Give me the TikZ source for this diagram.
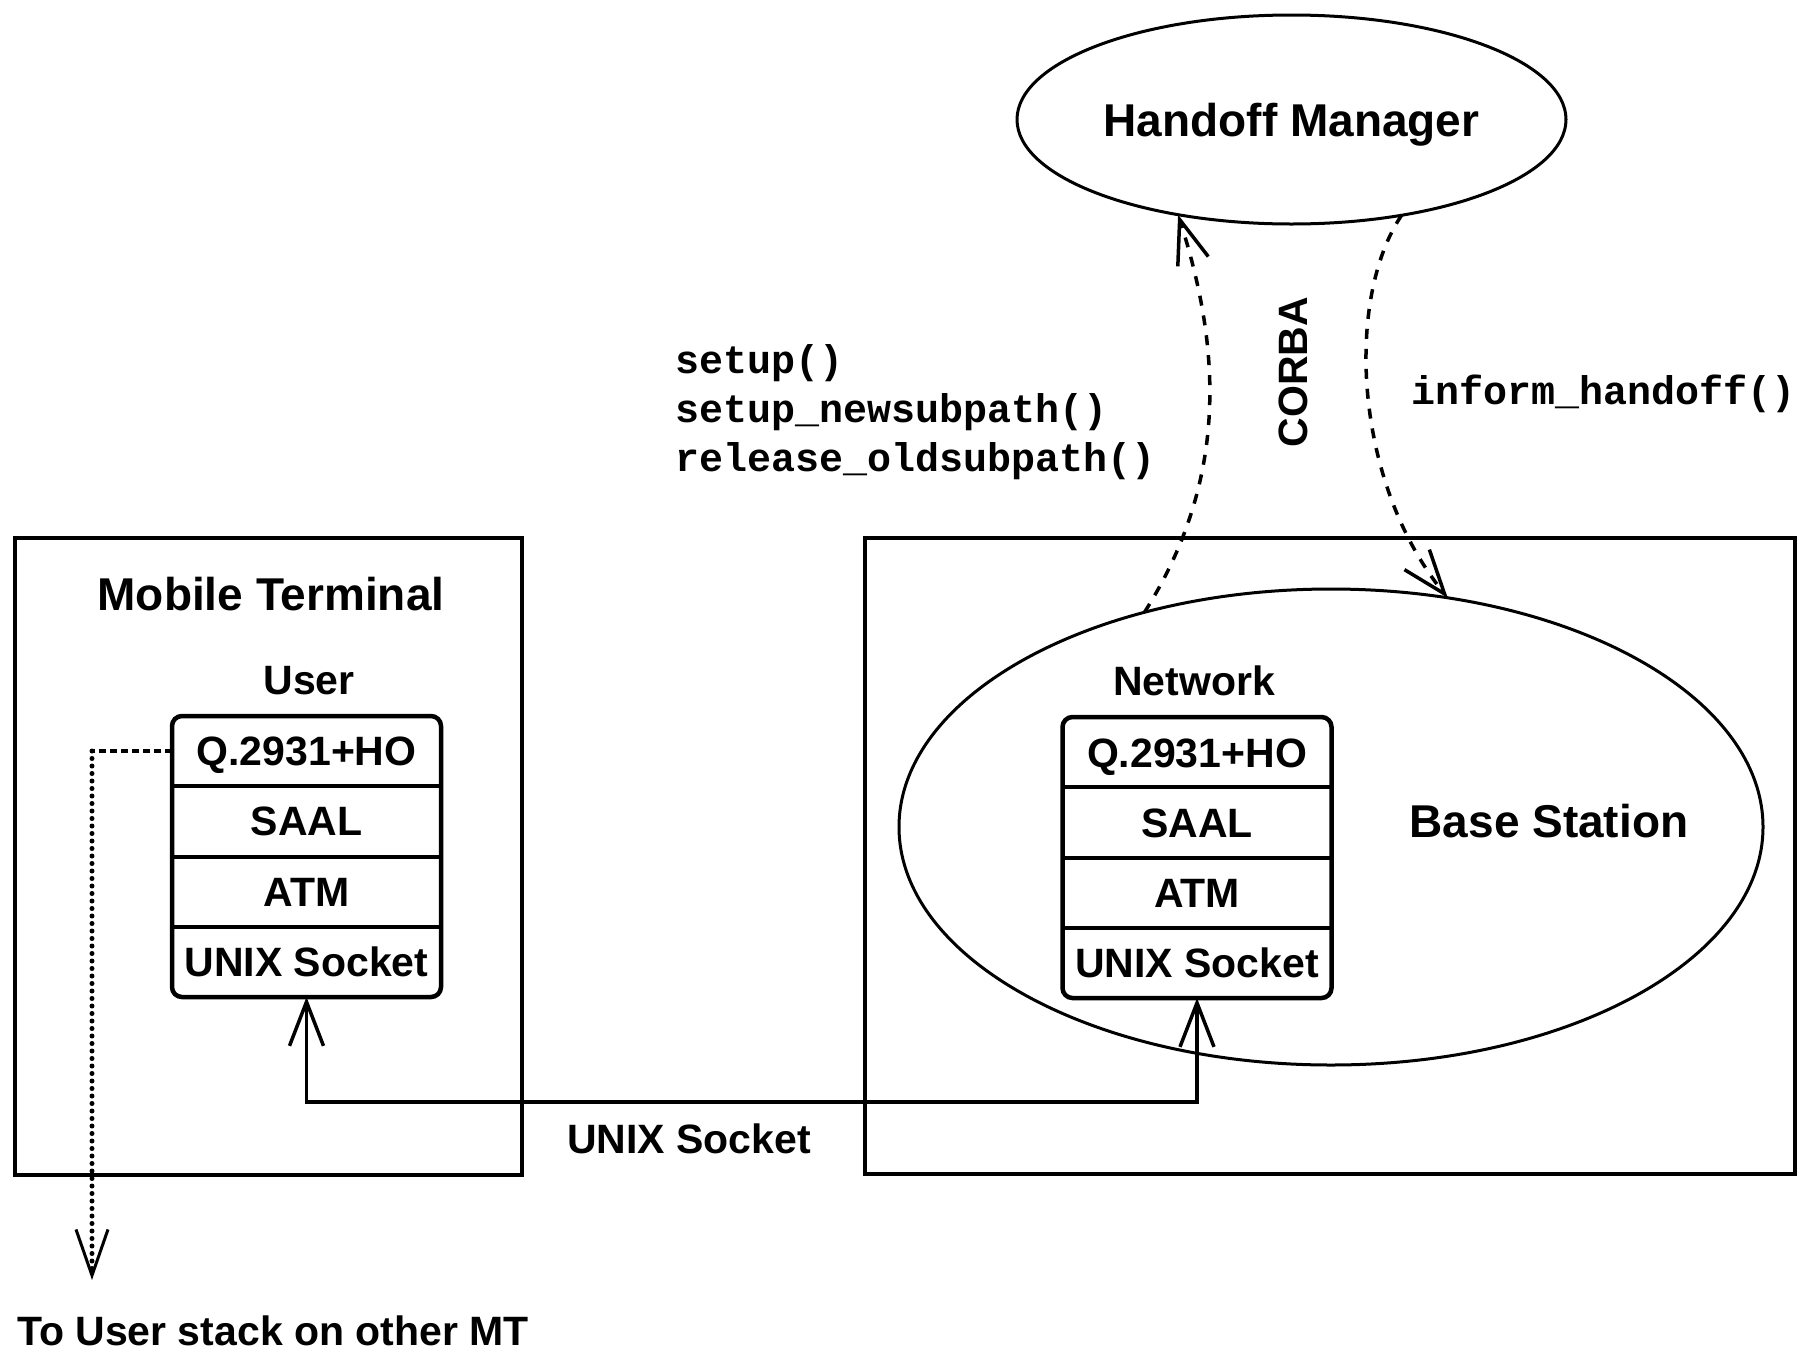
\documentclass[tikz,border=0pt]{standalone}
\usepackage{fontspec}
\setmainfont{Liberation Sans}
\newfontfamily\codefont{Liberation Mono}
\usetikzlibrary{arrows.meta,shapes.geometric,calc}

\tikzset{
  barb/.tip={Straight Barb[length=44pt,width=34pt,line width=3.5pt]},
  smallbarb/.tip={Straight Barb[length=46pt,width=32pt,line width=3pt]},
  rpcbarb/.tip={Straight Barb[length=44pt,width=32pt,line width=3.5pt]},
}

\begin{document}
\begin{tikzpicture}[x=1pt,y=-1pt,
  every node/.style={inner sep=0pt, outer sep=0pt},
  heading/.style={font=\fontsize{46}{52}\selectfont\bfseries, text height=33pt, text depth=0pt},
  txt/.style={font=\fontsize{41}{48}\selectfont\bfseries, text height=29.5pt, text depth=0pt},
  code/.style={font=\fontsize{40}{49}\selectfont\codefont\bfseries, align=left},
  boxframe/.style={draw, line width=4pt},
  stackbox/.style={draw, line width=4.5pt, rounded corners=10pt, minimum width=269pt, minimum height=281pt},
  oval/.style={draw, ellipse, line width=3pt},
  rpc/.style={line width=3.5pt, dash pattern=on 10pt off 10pt},
  sock/.style={line width=3.5pt},
  divider/.style={line width=4pt},
]
\useasboundingbox (0,0) rectangle (1810,1355);

% Handoff manager
\node[oval, heading, minimum width=549pt, minimum height=209pt] (hm) at (1291.5,119.5) {Handoff Manager};

% Mobile terminal
\node[boxframe, minimum width=507pt, minimum height=637pt] (mt) at (268.5,856.5) {};
\node[heading] (mttitle) at (271,594) {Mobile Terminal};
\node[txt] (user) at (309,680) {User};
\node[stackbox] (mts) at (306.5,856.5) {};
\node[txt] (mtq) at (306.5,751) {Q.2931+HO};
\node[txt] (mtsaal) at (306.5,821) {SAAL};
\node[txt] (mtatm) at (306.5,891.5) {ATM};
\node[txt] (mtunix) at (306.5,962) {UNIX Socket};
\foreach \f in {0.25,0.5,0.75}
  \draw[divider] ($(mts.north west)!\f!(mts.south west)$) -- ($(mts.north east)!\f!(mts.south east)$);

% Base station
\node[boxframe, minimum width=930pt, minimum height=636pt] (bs) at (1330,856) {};
\node[oval, minimum width=864pt, minimum height=476pt] (net) at (1331,827) {};
\node[heading] (bstitle) at (1549,821) {Base Station};
\node[txt] (network) at (1194,681) {Network};
\node[stackbox] (bss) at (1197,857.5) {};
\node[txt] (bsq) at (1197,753) {Q.2931+HO};
\node[txt] (bssaal) at (1197,823) {SAAL};
\node[txt] (bsatm) at (1197,893) {ATM};
\node[txt] (bsunix) at (1197,963) {UNIX Socket};
\foreach \f in {0.25,0.5,0.75}
  \draw[divider] ($(bss.north west)!\f!(bss.south west)$) -- ($(bss.north east)!\f!(bss.south east)$);

% CORBA calls
\node[txt, rotate=90] (corba) at (1293,372) {CORBA};
\node[code, anchor=west] (calls) at (675,412) {setup()\\setup\_newsubpath()\\release\_oldsubpath()};
\node[code, anchor=west] (inform) at (1411,394) {inform\_handoff()};
\draw[rpc, -rpcbarb] (net.131.7) .. controls +(88,-139) and +(40,125) .. (hm.-140.4);
\draw[rpc, -rpcbarb] (hm.-41) .. controls +(-56,83) and +(-95,-118) .. (net.63.5);

% UNIX socket link between the two stacks
\coordinate (sockmid) at (700,1102);
\draw[sock, barb-barb] (mts.south) |- (sockmid) -| (bss.south);
\node[txt] (socklabel) at (689,1139) {UNIX Socket};

% Link to the user stack of another terminal
\coordinate (bend) at (92,751);
\coordinate (othertip) at (92,1280);
\draw[line width=4pt, dash pattern=on 7pt off 4pt] (mts.west |- mtq) -- (bend);
\draw[line width=5pt, line cap=round, dash pattern=on 0pt off 7.5pt, -smallbarb] (bend) -- (othertip);
\node[txt, anchor=west] (othermt) at (17,1331) {To User stack on other MT};
\end{tikzpicture}
\end{document}
